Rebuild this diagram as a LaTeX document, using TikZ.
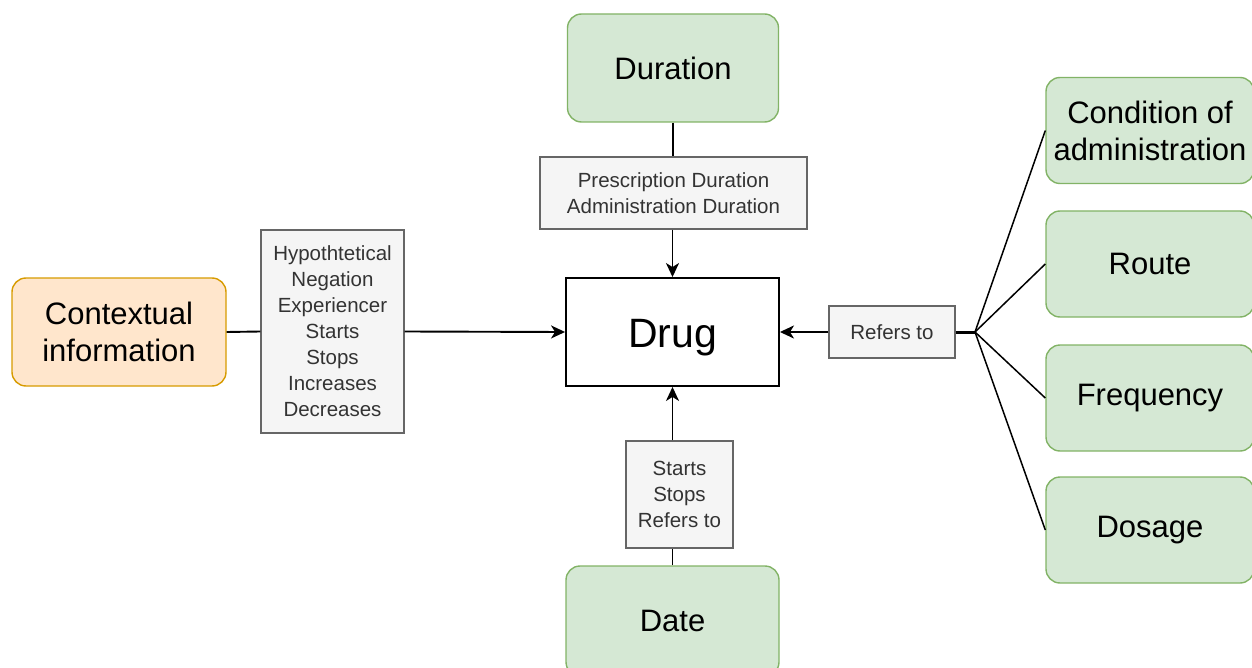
\documentclass[tikz,border=0pt]{standalone}
\usepackage{fontspec}
\setmainfont{Liberation Sans}
\usetikzlibrary{arrows.meta}
\definecolor{gfill}{HTML}{D5E8D4}
\definecolor{gdraw}{HTML}{82B366}
\definecolor{ofill}{HTML}{FFE6CC}
\definecolor{odraw}{HTML}{D79B00}
\definecolor{lfill}{HTML}{F5F5F5}
\definecolor{ldraw}{HTML}{666666}
\definecolor{ltext}{HTML}{333333}
\tikzset{
  greenbox/.style={draw=gdraw, fill=gfill, line width=1.4pt, rounded corners=14pt,
    minimum width=211pt, minimum height=108pt, inner sep=0pt, align=center,
    font=\fontsize{31}{37}\selectfont},
  orangebox/.style={draw=odraw, fill=ofill, line width=1.4pt, rounded corners=14pt,
    minimum width=214pt, minimum height=108pt, inner sep=0pt, align=center,
    font=\fontsize{31}{37}\selectfont},
  drugbox/.style={draw=black, fill=white, line width=1.9pt,
    minimum width=213pt, minimum height=108pt, inner sep=0pt,
    text height=33pt, text depth=3pt,
    font=\fontsize{41}{46}\selectfont},
  lbl/.style={draw=ldraw, fill=lfill, line width=1.4pt, inner sep=0pt, align=center,
    text=ltext, font=\fontsize{20.5}{26}\selectfont},
  conn/.style={draw=black, line width=1.9pt},
  arr/.style={conn, -{Stealth[length=14pt,width=13pt,inset=4pt]}},
}
\begin{document}
\begin{tikzpicture}[x=1pt,y=-1pt]
\useasboundingbox (0,0) rectangle (1252,668);
% nodes
\node[greenbox] (dur) at (673,68) {Duration};
\node[lbl, minimum width=267pt, minimum height=72pt] (ldur) at (673.5,193) {Prescription Duration\\Administration Duration};
\node[drugbox] (drug) at (672.5,332) {Drug};
\node[orangebox] (ctx) at (119,332) {Contextual\\information};
\node[lbl, minimum width=143pt, minimum height=203pt] (lctx) at (332.5,331.5) {Hypothtetical\\Negation\\Experiencer\\Starts\\Stops\\Increases\\Decreases};
\node[lbl, minimum width=107pt, minimum height=107pt] (ldate) at (679.5,494.5) {Starts\\Stops\\Refers to};
\node[greenbox, minimum width=213pt, minimum height=110pt] (date) at (672.5,621) {Date};
\node[lbl, minimum width=126pt, minimum height=52pt] (lref) at (892,332) {Refers to};
\node[greenbox, minimum width=208pt, minimum height=106pt] (cond) at (1150,130.5) {Condition of\\administration};
\node[greenbox, minimum width=208pt, minimum height=106pt] (route) at (1150,264) {Route};
\node[greenbox, minimum width=208pt, minimum height=106pt] (freq) at (1150,398) {Frequency};
\node[greenbox, minimum width=208pt, minimum height=106pt] (dose) at (1150,530) {Dosage};
\coordinate (fan) at (975,332);
% connectors
\draw[conn] (dur.south) -- (dur.south |- ldur.north);
\draw[arr] (drug.north |- ldur.south) -- (drug.north);
\draw[conn] (ctx.east) -- (lctx.west);
\draw[arr] (lctx.east) -- (drug.west);
\draw[conn] (date.north) -- (date.north |- ldate.south);
\draw[arr] (drug.south |- ldate.north) -- (drug.south);
\draw[arr] (lref.west) -- (drug.east);
\draw[conn, line width=3pt] (lref.east) -- (fan);
\draw[conn, line width=1.5pt] (fan) -- (cond.west);
\draw[conn, line width=1.5pt] (fan) -- (route.west);
\draw[conn, line width=1.5pt] (fan) -- (freq.west);
\draw[conn, line width=1.5pt] (fan) -- (dose.west);
\end{tikzpicture}
\end{document}
